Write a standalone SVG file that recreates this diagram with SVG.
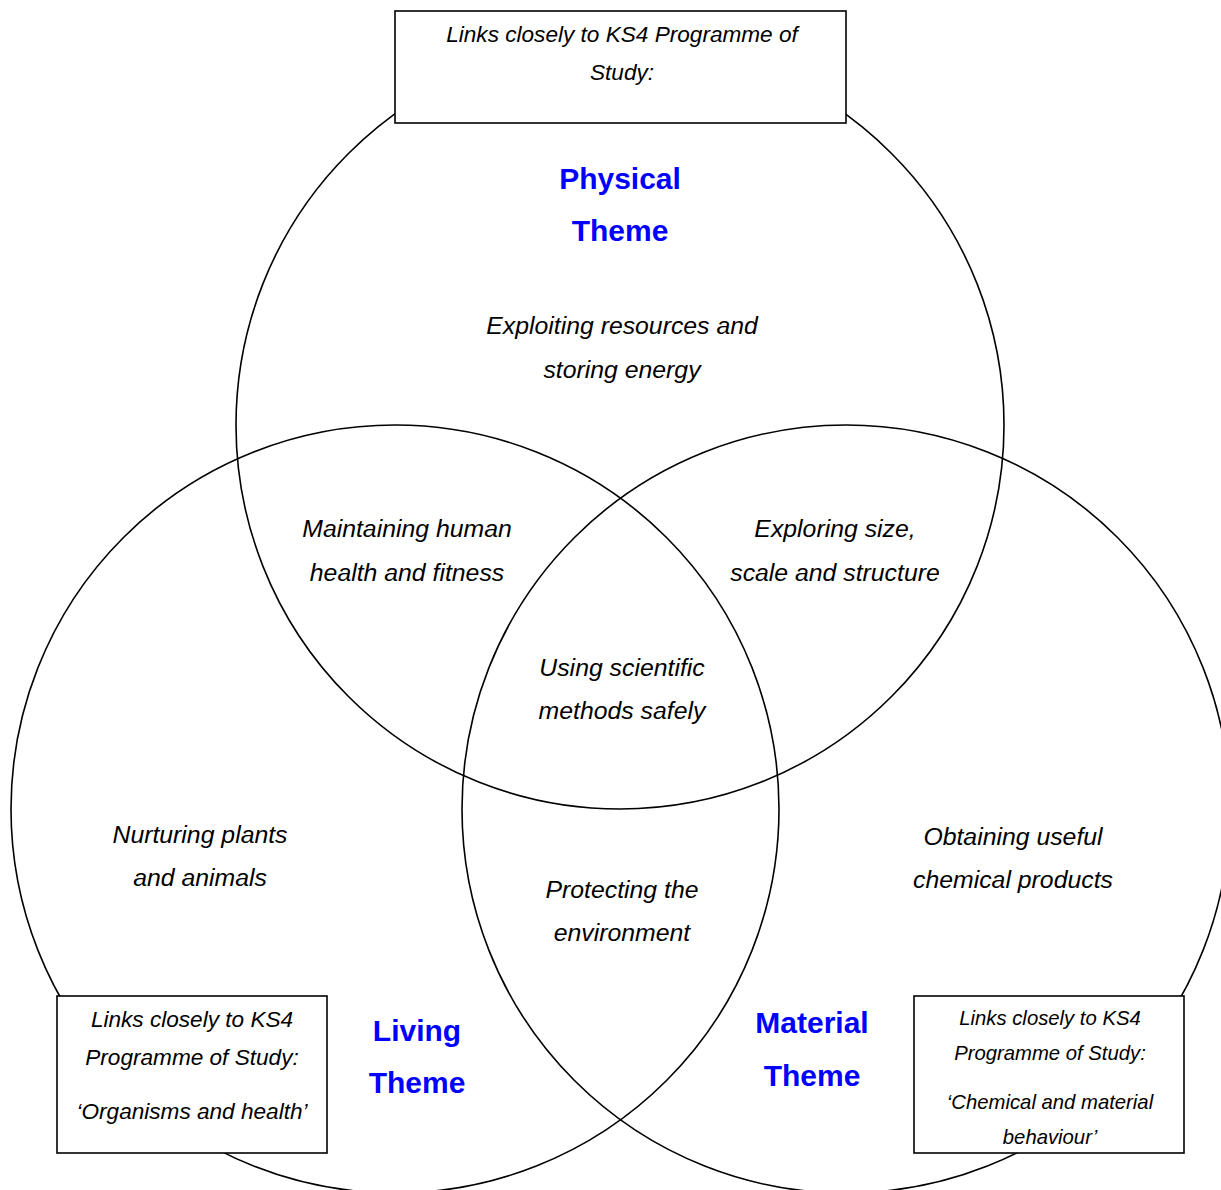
<svg xmlns="http://www.w3.org/2000/svg" width="1221" height="1190" viewBox="0 0 1221 1190">
<style>
.c{fill:none;stroke:#000;stroke-width:1.6}
.b{fill:#fff;stroke:#000;stroke-width:1.6}
.t{font-family:"Liberation Sans",Arial,sans-serif;font-style:italic;font-size:24.8px;fill:#000;text-anchor:middle}
.s{font-family:"Liberation Sans",Arial,sans-serif;font-style:italic;font-size:22.6px;fill:#000;text-anchor:middle}
.r{font-family:"Liberation Sans",Arial,sans-serif;font-style:italic;font-size:20.3px;fill:#000;text-anchor:middle}
.h{font-family:"Liberation Sans",Arial,sans-serif;font-weight:bold;font-size:30px;fill:#0000ff;text-anchor:middle}
</style>
<rect width="1221" height="1190" fill="#fff"/>
<g id="circles">
<circle id="physical" class="c" cx="620" cy="425" r="384"/>
<circle id="living" class="c" cx="395" cy="809" r="384"/>
<circle id="material" class="c" cx="846" cy="809" r="384"/>
</g>
<g id="labels">
<text class="h" x="620" y="189">Physical</text>
<text class="h" x="620" y="241">Theme</text>
<text class="t" x="622" y="334">Exploiting resources and</text>
<text class="t" x="622" y="378">storing energy</text>
<text class="t" x="407" y="537">Maintaining human</text>
<text class="t" x="407" y="581">health and fitness</text>
<text class="t" x="835" y="537">Exploring size,</text>
<text class="t" x="835" y="581">scale and structure</text>
<text class="t" x="622" y="676">Using scientific</text>
<text class="t" x="622" y="719">methods safely</text>
<text class="t" x="200" y="843">Nurturing plants</text>
<text class="t" x="200" y="886">and animals</text>
<text class="t" x="1013" y="845">Obtaining useful</text>
<text class="t" x="1013" y="888">chemical products</text>
<text class="t" x="622" y="898">Protecting the</text>
<text class="t" x="622" y="941">environment</text>
<text class="h" x="417" y="1041">Living</text>
<text class="h" x="417" y="1093">Theme</text>
<text class="h" x="812" y="1033">Material</text>
<text class="h" x="812" y="1086">Theme</text>
</g>
<g id="box-top">
<rect class="b" x="395" y="11" width="451" height="112"/>
<text class="s" x="622" y="42">Links closely to KS4 Programme of</text>
<text class="s" x="622" y="80">Study:</text>
</g>
<g id="box-left">
<rect class="b" x="57" y="996" width="270" height="157"/>
<text class="s" x="192" y="1027">Links closely to KS4</text>
<text class="s" x="192" y="1065">Programme of Study:</text>
<text class="s" x="192" y="1119">‘Organisms and health’</text>
</g>
<g id="box-right">
<rect class="b" x="914" y="996" width="270" height="157"/>
<text class="r" x="1050" y="1025">Links closely to KS4</text>
<text class="r" x="1050" y="1060">Programme of Study:</text>
<text class="r" x="1050" y="1109">‘Chemical and material</text>
<text class="r" x="1050" y="1144">behaviour’</text>
</g>
</svg>
